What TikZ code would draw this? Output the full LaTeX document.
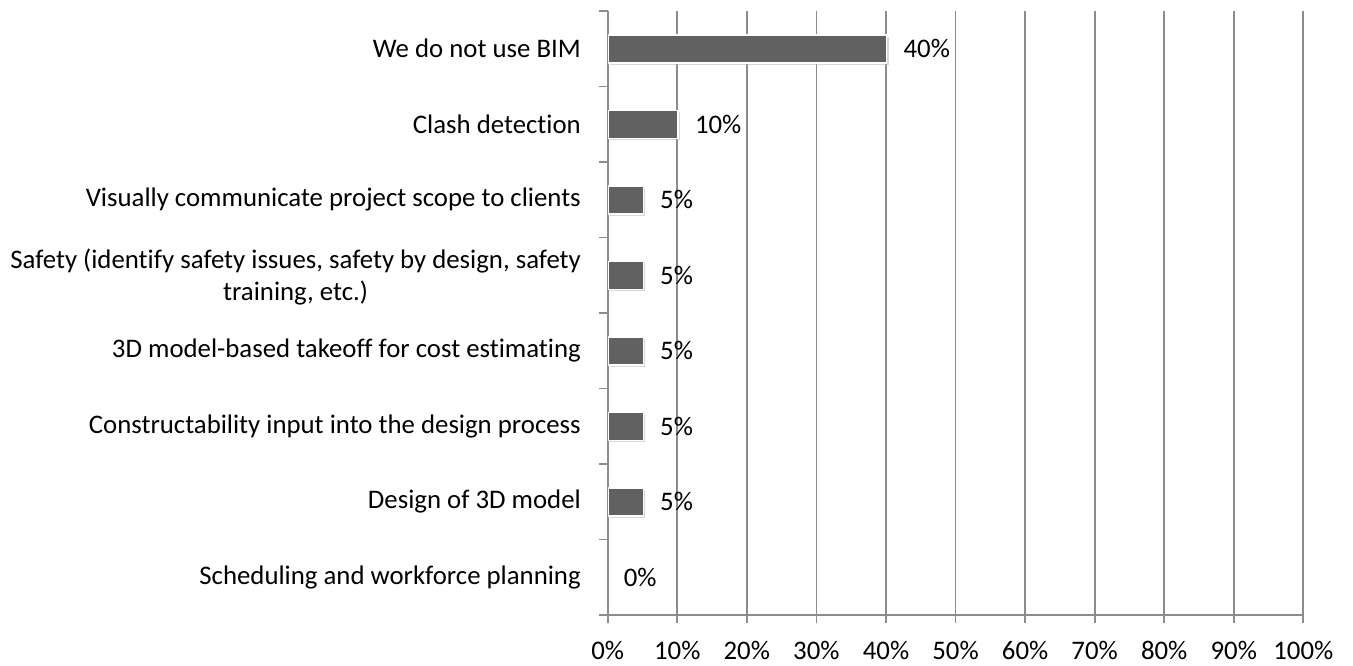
\documentclass[tikz,border=0pt]{standalone}
\usepackage{fontspec}
\setmainfont{Carlito}[Ligatures={NoCommon}]
\usetikzlibrary{arrows.meta,positioning,shadows}

\begin{document}
\begin{tikzpicture}[x=1pt,y=-1pt,font=\fontsize{26.8}{32.5}\selectfont]

  \tikzstyle{grid}=[line width=1.8pt,color=black!45];
  \tikzstyle{bar}=[rectangle,draw=white,line width=1.5pt,fill=black!62,
    minimum height=28pt,inner sep=0pt,anchor=west,
    drop shadow={shadow xshift=2pt,shadow yshift=-2pt,fill=black!30}];
  \tikzstyle{cat}=[anchor=east,align=center,inner sep=0pt];
  \tikzstyle{val}=[inner sep=0pt,node distance=16pt];
  \tikzstyle{tick}=[anchor=center,inner sep=0pt];

  \useasboundingbox (0,0) rectangle (1353,665);

  %% gridlines
  \draw[grid] (677.3,11) -- (677.3,623);
  \draw[grid] (746.8,11) -- (746.8,623);
  \draw[grid] (816.4,11) -- (816.4,623);
  \draw[grid] (886.0,11) -- (886.0,623);
  \draw[grid] (955.5,11) -- (955.5,623);
  \draw[grid] (1025.1,11) -- (1025.1,623);
  \draw[grid] (1094.6,11) -- (1094.6,623);
  \draw[grid] (1164.2,11) -- (1164.2,623);
  \draw[grid] (1233.8,11) -- (1233.8,623);
  \draw[grid] (1303.3,11) -- (1303.3,623);

  %% axes
  \draw[grid] (607.7,11) -- (607.7,623);
  \draw[grid] (599,615) -- (1303.3,615);
  \draw[grid] (599,11) -- (607.7,11);
  \draw[grid] (599,86.5) -- (607.7,86.5);
  \draw[grid] (599,162) -- (607.7,162);
  \draw[grid] (599,237.5) -- (607.7,237.5);
  \draw[grid] (599,313) -- (607.7,313);
  \draw[grid] (599,388.5) -- (607.7,388.5);
  \draw[grid] (599,464) -- (607.7,464);
  \draw[grid] (599,539.5) -- (607.7,539.5);

  %% bars
  \node [bar,minimum width=278.2pt] (b1) at (607.7,48.75) {};
  \node [bar,minimum width=69.6pt] (b2) at (607.7,124.25) {};
  \node [bar,minimum width=34.8pt] (b3) at (607.7,199.75) {};
  \node [bar,minimum width=34.8pt] (b4) at (607.7,275.25) {};
  \node [bar,minimum width=34.8pt] (b5) at (607.7,350.75) {};
  \node [bar,minimum width=34.8pt] (b6) at (607.7,426.25) {};
  \node [bar,minimum width=34.8pt] (b7) at (607.7,501.75) {};
  \coordinate (b8) at (607.7,577.25);

  \node [val,right=of b1.east] (v1) {40\%};
  \node [val,right=of b2.east] (v2) {10\%};
  \node [val,right=of b3.east] (v3) {5\%};
  \node [val,right=of b4.east] (v4) {5\%};
  \node [val,right=of b5.east] (v5) {5\%};
  \node [val,right=of b6.east] (v6) {5\%};
  \node [val,right=of b7.east] (v7) {5\%};
  \node [val,right=of b8] (v8) {0\%};

  %% categories
  \node [cat] (c1) at (581,48.75) {We do not use BIM};
  \node [cat] (c2) at (581,124.25) {Clash detection};
  \node [cat] (c3) at (581,199.75) {Visually communicate project scope to clients};
  \node [cat] (c4) at (581,277) {Safety (identify safety issues, safety by design, safety\\training, etc.)};
  \node [cat] (c5) at (581,350.75) {3D model-based takeoff for cost estimating};
  \node [cat] (c6) at (581,426.25) {Constructability input into the design process};
  \node [cat] (c7) at (581,501.75) {Design of 3D model};
  \node [cat] (c8) at (581,577.25) {Scheduling and workforce planning};

  %% x axis
  \node [tick] (t0) at (607.7,650) {0\%};
  \node [tick] (t1) at (677.3,650) {10\%};
  \node [tick] (t2) at (746.8,650) {20\%};
  \node [tick] (t3) at (816.4,650) {30\%};
  \node [tick] (t4) at (886.0,650) {40\%};
  \node [tick] (t5) at (955.5,650) {50\%};
  \node [tick] (t6) at (1025.1,650) {60\%};
  \node [tick] (t7) at (1094.6,650) {70\%};
  \node [tick] (t8) at (1164.2,650) {80\%};
  \node [tick] (t9) at (1233.8,650) {90\%};
  \node [tick] (t10) at (1303.3,650) {100\%};

\end{tikzpicture}
\end{document}
